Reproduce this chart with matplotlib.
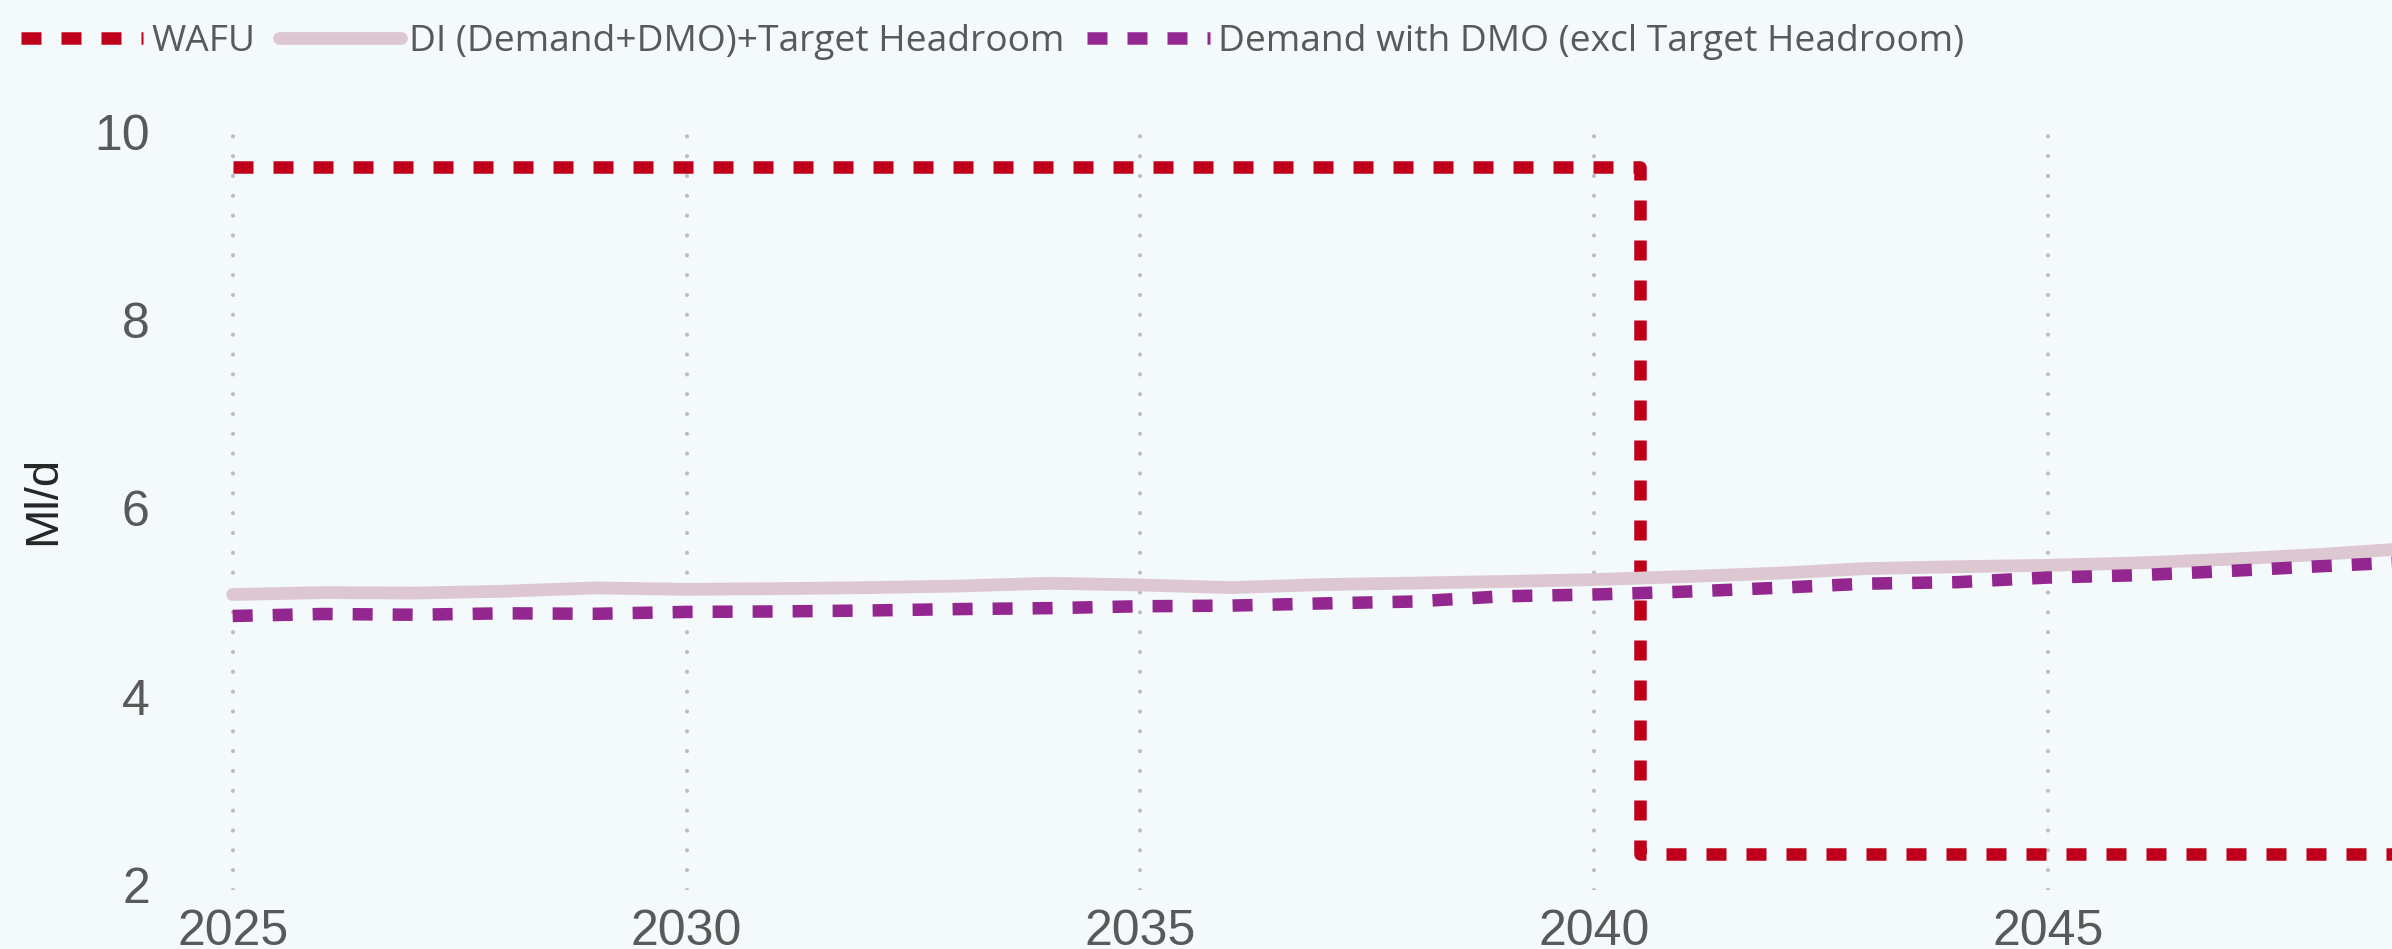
import numpy as np
import matplotlib
matplotlib.use("Agg")
import matplotlib.pyplot as plt

# data
years = list(range(2025, 2050))
wafu = [9.62] * 16 + [2.33] * 9
di_headroom = [5.085, 5.105, 5.10, 5.12, 5.155, 5.14, 5.147, 5.158, 5.175, 5.204,
               5.186, 5.158, 5.19, 5.206, 5.223, 5.243, 5.275, 5.31, 5.36, 5.38,
               5.395, 5.42, 5.46, 5.51, 5.575]
demand_dmo = [4.857, 4.878, 4.87, 4.885, 4.88, 4.90, 4.905, 4.915, 4.93, 4.94,
              4.96, 4.967, 4.99, 5.01, 5.066, 5.085, 5.115, 5.155, 5.20, 5.216,
              5.265, 5.29, 5.335, 5.385, 5.43]
labels = ["WAFU", "DI (Demand+DMO)+Target Headroom", "Demand with DMO (excl Target Headroom)"]
xticks = [2025, 2030, 2035, 2040, 2045]
yticks = [2, 4, 6, 8, 10]

bg = "#F4F9FC"
grey = "#595959"

fig = plt.figure(figsize=(23.92, 9.49), dpi=100, facecolor=bg)
ax = fig.add_axes([0.0783, 0.0625, 0.9217, 0.8037], facecolor=bg)

lw = 9.0
dash = (0, (1.6, 1.6))
ax.plot(years, wafu, color="#C0001A", lw=lw, linestyle=dash, drawstyle="steps-mid",
        label=labels[0], zorder=3)
ax.plot(years, di_headroom, color="#DDC8D2", lw=9.2, solid_capstyle="round",
        solid_joinstyle="round", label=labels[1], zorder=4)
ax.plot(years, demand_dmo, color="#93278F", lw=lw, linestyle=dash,
        label=labels[2], zorder=5)

ax.set_xlim(2024.5, 2048.79)
ax.set_ylim(1.95, 10.05)
ax.set_xticks(xticks)
ax.set_yticks(yticks)

ax.grid(axis="x", color="#BDBDBD", lw=3.0, linestyle=(0, (0.01, 4.75)),
        dash_capstyle="round")
ax.grid(axis="y", visible=False)
ax.set_axisbelow(True)

for s in ax.spines.values():
    s.set_visible(False)

ax.tick_params(axis="both", length=0, labelcolor=grey, labelsize=36)
ax.tick_params(axis="y", pad=27)
ax.tick_params(axis="x", pad=14)
for t in ax.get_xticklabels() + ax.get_yticklabels():
    t.set_fontfamily("Liberation Sans")

ax.set_ylabel("Ml/d", fontsize=34, color="#262626", family="Liberation Sans")
ax.yaxis.set_label_coords(-0.0555, 0.51)

fig.legend(loc="center left", bbox_to_anchor=(21 / 2392, 0.956), ncol=3,
           frameon=False, borderpad=0, borderaxespad=0,
           handlelength=3.3, handletextpad=0.22, columnspacing=0.62,
           prop={"family": "Open Sans", "size": 26.7}, labelcolor=grey)

fig.savefig("out.png", dpi=100, facecolor=bg)
